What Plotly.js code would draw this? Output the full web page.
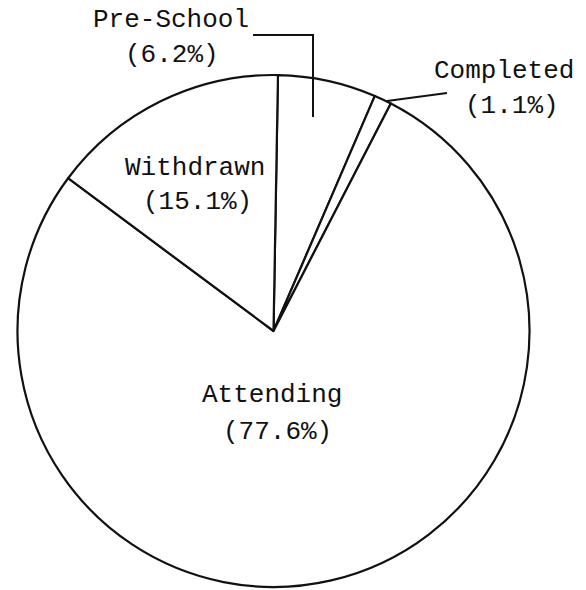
<!DOCTYPE html>
<html>
<head>
<meta charset="utf-8">
<script src="https://cdn.plot.ly/plotly-3.0.1.min.js"></script>
<style>html,body{margin:0;padding:0;background:#fff;}#chart{width:586px;height:590px;}</style>
</head>
<body>
<div id="chart"></div>
<script>
var labels = ['Pre-School', 'Completed', 'Attending', 'Withdrawn'];
var values = [6.2, 1.1, 77.6, 15.1];

var W = 586, H = 590;
function px(x) { return x / W; }
function py(y) { return 1 - y / H; }

// label placement (pixel centres of each text line)
var labelPos = {
  'Pre-School': [[171, 20], [172, 55]],
  'Completed':  [[504, 71], [512, 106]],
  'Attending':  [[272, 395], [277, 432]],
  'Withdrawn':  [[195, 168], [197, 202]]
};

var font = {family: 'Liberation Mono, Courier New, monospace', size: 26, color: '#111'};
var annotations = [];
labels.forEach(function (lab, i) {
  var p = labelPos[lab];
  annotations.push({text: lab, x: px(p[0][0]), y: py(p[0][1]), xref: 'paper', yref: 'paper',
    xanchor: 'center', yanchor: 'middle', showarrow: false, font: font});
  annotations.push({text: '(' + values[i].toFixed(1) + '%)', x: px(p[1][0]), y: py(p[1][1]), xref: 'paper', yref: 'paper',
    xanchor: 'center', yanchor: 'middle', showarrow: false, font: font});
});

function path(pts) {
  return pts.map(function (p, k) { return (k ? 'L' : 'M') + px(p[0]) + ',' + py(p[1]); }).join(' ');
}

var shapes = [
  {type: 'path', xref: 'paper', yref: 'paper', path: path([[253, 35], [313, 35], [313, 117]]), line: {color: '#111', width: 2}},
  {type: 'path', xref: 'paper', yref: 'paper', path: path([[447, 93], [387, 101]]), line: {color: '#111', width: 2}}
];

var trace = {
  type: 'pie',
  labels: labels,
  values: values,
  sort: false,
  direction: 'clockwise',
  rotation: 1,
  textinfo: 'none',
  hoverinfo: 'label+percent',
  marker: {colors: ['#fff', '#fff', '#fff', '#fff'], line: {color: '#111', width: 2.2}},
  domain: {x: [17.5 / W, 529.5 / W], y: [1 - 587 / H, 1 - 75 / H]},
  showlegend: false
};

Plotly.newPlot('chart', [trace], {
  width: W, height: H,
  margin: {l: 0, r: 0, t: 0, b: 0},
  paper_bgcolor: '#fff',
  showlegend: false,
  annotations: annotations,
  shapes: shapes
}, {displayModeBar: false, staticPlot: true});
</script>
</body>
</html>
